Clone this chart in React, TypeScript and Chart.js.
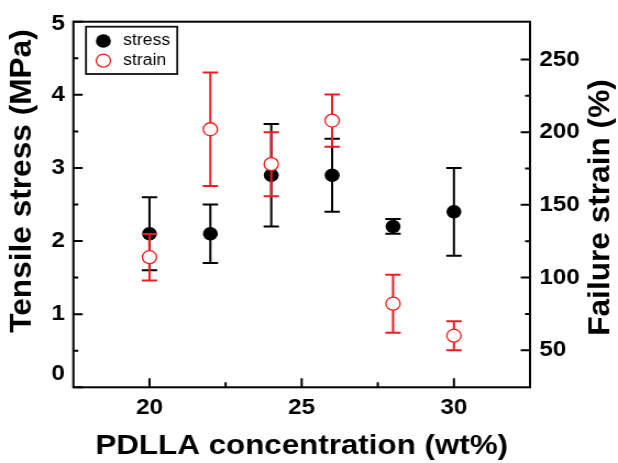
import React, { useEffect, useRef } from 'react';
import { Chart, registerables } from 'chart.js';

Chart.register(...registerables);

// ---- data ----
const concentration = [20, 22, 24, 26, 28, 30];
const stressMean = [2.1, 2.1, 2.9, 2.9, 2.2, 2.4];
const stressErr = [0.5, 0.4, 0.7, 0.5, 0.1, 0.6];
const strainMean = [114, 202, 178, 208, 82, 60];
const strainErr = [16, 39, 22, 18, 20, 10];

const xTicks = [20, 25, 30];
const xMinorTicks = [22.5, 27.5];
const yTicks = [0, 1, 2, 3, 4, 5];
const yMinorTicks = [0.5, 1.5, 2.5, 3.5, 4.5];
const y2Ticks = [50, 100, 150, 200, 250];
const y2MinorTicks = [75, 125, 175, 225];

const xTitle = 'PDLLA concentration (wt%)';
const yTitle = 'Tensile stress (MPa)';
const y2Title = 'Failure strain (%)';

// ---- layout ----
const CW = 562;
const CH = 463;
const FONT = "'Liberation Sans', Arial, Helvetica, sans-serif";
const RED = '#ec1c24';

const errorBarPlugin = {
  id: 'errorBars',
  beforeDatasetDraw(chart: any, args: any) {
    const ds: any = chart.data.datasets[args.index];
    if (!ds.errors) return;
    const xs = chart.scales.x;
    const ys = chart.scales[ds.yAxisID];
    const ctx = chart.ctx;
    ctx.save();
    ctx.strokeStyle = ds.errorColor;
    ctx.lineWidth = 2;
    ctx.lineCap = 'butt';
    ds.data.forEach((p: any, i: number) => {
      const e = ds.errors[i];
      const px = xs.getPixelForValue(p.x);
      const yt = ys.getPixelForValue(p.y + e);
      const yb = ys.getPixelForValue(p.y - e);
      ctx.beginPath();
      ctx.moveTo(px, yt);
      ctx.lineTo(px, yb);
      ctx.moveTo(px - 7, yt);
      ctx.lineTo(px + 7, yt);
      ctx.moveTo(px - 7, yb);
      ctx.lineTo(px + 7, yb);
      ctx.stroke();
    });
    ctx.restore();
  },
};

function drawVerticalTitle(ctx: any, text: string, cx: number, cy: number) {
  ctx.save();
  ctx.translate(cx, cy);
  ctx.rotate(-Math.PI / 2);
  ctx.scale(1.15, 1);
  ctx.fillText(text, 0, 0);
  ctx.restore();
}

const framePlugin = {
  id: 'frame',
  afterDraw(chart: any) {
    const { ctx, chartArea } = chart;
    const { left, right, top, bottom } = chartArea;
    const xs = chart.scales.x;
    const ys = chart.scales.y;
    const ys2 = chart.scales.y2;
    ctx.save();
    ctx.strokeStyle = '#000';
    ctx.lineWidth = 2;
    ctx.beginPath();
    xTicks.forEach((v) => {
      const p = xs.getPixelForValue(v);
      ctx.moveTo(p, bottom);
      ctx.lineTo(p, bottom - 9);
    });
    xMinorTicks.forEach((v) => {
      const p = xs.getPixelForValue(v);
      ctx.moveTo(p, bottom);
      ctx.lineTo(p, bottom - 5);
    });
    yTicks.forEach((v) => {
      const p = ys.getPixelForValue(v);
      ctx.moveTo(left, p);
      ctx.lineTo(left + 8.5, p);
    });
    yMinorTicks.forEach((v) => {
      const p = ys.getPixelForValue(v);
      ctx.moveTo(left, p);
      ctx.lineTo(left + 4.5, p);
    });
    y2Ticks.forEach((v) => {
      const p = ys2.getPixelForValue(v);
      ctx.moveTo(right, p);
      ctx.lineTo(right - 8.5, p);
    });
    y2MinorTicks.forEach((v) => {
      const p = ys2.getPixelForValue(v);
      ctx.moveTo(right, p);
      ctx.lineTo(right - 4.5, p);
    });
    ctx.stroke();
    ctx.strokeRect(left, top, right - left, bottom - top);

    ctx.fillStyle = '#000';
    // left tick labels (end labels kept inside the axis span, as in the original)
    ctx.font = `bold 22px ${FONT}`;
    ctx.textAlign = 'right';
    ctx.textBaseline = 'middle';
    yTicks.forEach((v) => {
      const p = ys.getPixelForValue(v);
      const py = Math.min(Math.max(p, top + 2.5), bottom - 13);
      ctx.fillText(String(v), left - 7.6, py);
    });

    // vertical axis titles (both read bottom-to-top)
    ctx.font = `bold 27.5px ${FONT}`;
    ctx.textAlign = 'center';
    drawVerticalTitle(ctx, yTitle, 20.5, 181);
    drawVerticalTitle(ctx, y2Title, 546, 207.5);

    // legend
    const lx = 78.2;
    const ly = 26.7;
    ctx.lineWidth = 1.8;
    ctx.strokeStyle = '#111';
    ctx.strokeRect(lx, ly, 83, 47.3);
    const rows = [41, 60.7];
    ctx.font = `16px ${FONT}`;
    ctx.textAlign = 'left';
    chart.data.datasets
      .slice()
      .sort((a: any, b: any) => a.legendRank - b.legendRank)
      .forEach((ds: any, i: number) => {
        const cy = rows[i];
        ctx.beginPath();
        ctx.arc(94, cy, ds.pointRadius, 0, Math.PI * 2);
        ctx.fillStyle = ds.pointBackgroundColor;
        ctx.fill();
        if (ds.pointBorderWidth > 0) {
          ctx.lineWidth = ds.pointBorderWidth;
          ctx.strokeStyle = ds.pointBorderColor;
          ctx.stroke();
        }
        ctx.fillStyle = '#000';
        ctx.fillText(ds.label, 112, cy);
      });
    ctx.restore();
  },
};

export default function App() {
  const ref = useRef<HTMLCanvasElement | null>(null);

  useEffect(() => {
    const canvas = ref.current;
    if (!canvas) return;
    const tickFont = { family: FONT, size: 22, weight: 'bold' as const };
    const chart = new Chart(canvas, {
      type: 'scatter',
      data: {
        datasets: [
          {
            label: 'strain',
            data: concentration.map((x, i) => ({ x, y: strainMean[i] })),
            yAxisID: 'y2',
            order: 0,
            pointRadius: 6.5,
            pointBorderWidth: 1.3,
            pointBorderColor: '#f01e1e',
            pointBackgroundColor: '#ffffff',
            showLine: false,
            errors: strainErr,
            errorColor: RED,
            legendRank: 1,
          } as any,
          {
            label: 'stress',
            data: concentration.map((x, i) => ({ x, y: stressMean[i] })),
            yAxisID: 'y',
            order: 1,
            pointRadius: 6.8,
            pointBorderWidth: 0,
            pointBorderColor: '#000',
            pointBackgroundColor: '#000',
            showLine: false,
            errors: stressErr,
            errorColor: '#000',
            legendRank: 0,
          } as any,
        ],
      },
      options: {
        responsive: false,
        animation: false,
        events: [],
        layout: { padding: { top: 16.7, left: 0, right: 0, bottom: 0 } },
        plugins: {
          legend: { display: false },
          tooltip: { enabled: false },
        },
        scales: {
          x: {
            type: 'linear',
            position: 'bottom',
            min: 17.5,
            max: 32.5,
            afterBuildTicks: (s: any) => {
              s.ticks = xTicks.map((v) => ({ value: v }));
            },
            afterFit: (s: any) => {
              s.height = 75.7;
            },
            grid: { display: false, drawTicks: false },
            border: { display: false },
            ticks: { font: tickFont, color: '#000', padding: 7, maxRotation: 0, autoSkip: false },
            title: {
              display: true,
              text: xTitle,
              color: '#000',
              font: { family: FONT, size: 28.5, weight: 'bold' },
              padding: { top: 0, bottom: 0 },
            },
          },
          y: {
            type: 'linear',
            position: 'left',
            min: 0,
            max: 5,
            afterBuildTicks: (s: any) => {
              s.ticks = yTicks.map((v) => ({ value: v }));
            },
            afterFit: (s: any) => {
              s.width = 66.7;
            },
            grid: { display: false, drawTicks: false },
            border: { display: false },
            ticks: { display: false },
          },
          y2: {
            type: 'linear',
            position: 'right',
            min: 24.5,
            max: 276,
            afterBuildTicks: (s: any) => {
              s.ticks = y2Ticks.map((v) => ({ value: v }));
            },
            afterFit: (s: any) => {
              s.width = 80;
            },
            grid: { display: false, drawTicks: false },
            border: { display: false },
            ticks: { font: tickFont, color: '#000', padding: 8.5, autoSkip: false },
          },
        },
      } as any,
      plugins: [errorBarPlugin, framePlugin],
    });
    return () => chart.destroy();
  }, []);

  return (
    <div style={{ position: 'fixed', left: 0, top: 0, width: 618, height: 463, background: '#fff' }}>
      <canvas
        ref={ref}
        width={CW}
        height={CH}
        style={{ width: '618px', height: '463px', display: 'block' }}
      />
    </div>
  );
}
